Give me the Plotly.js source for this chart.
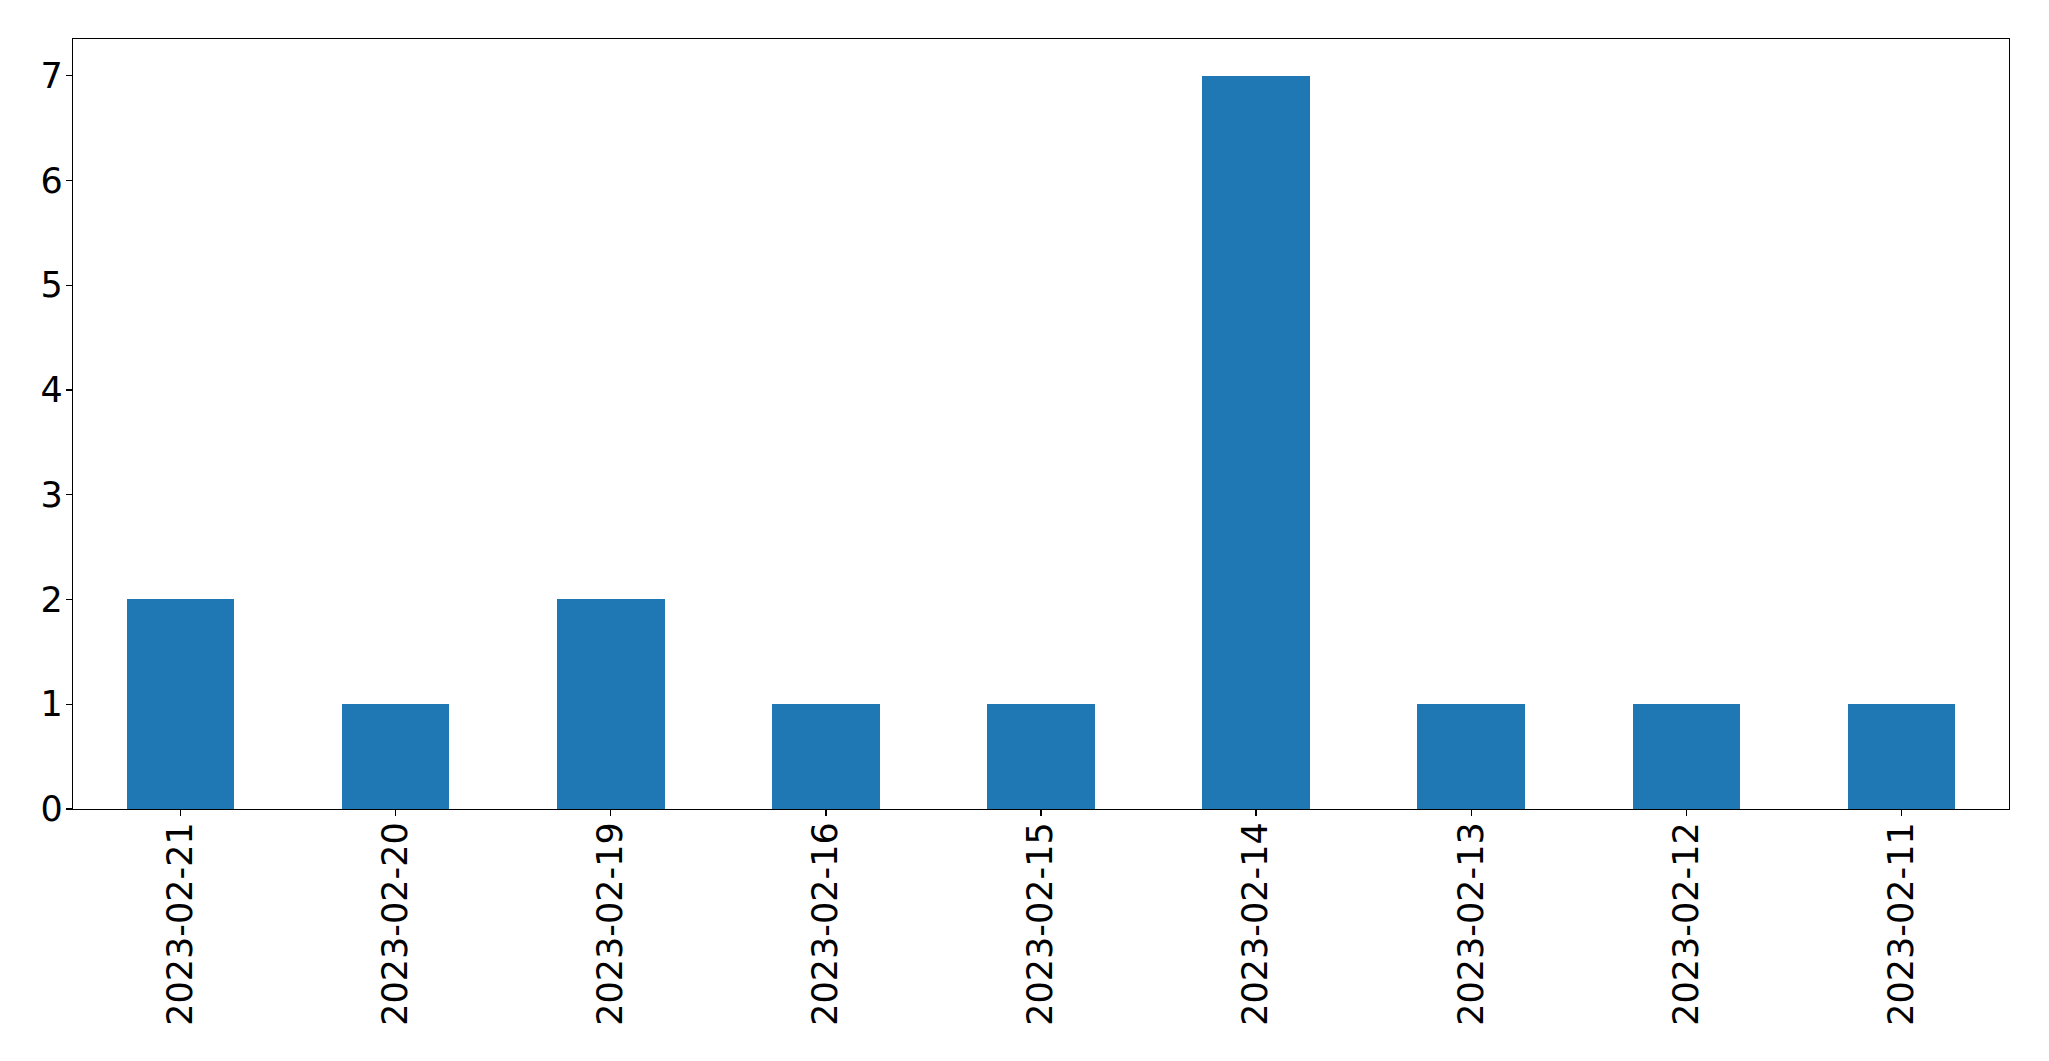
<!DOCTYPE html>
<html>
<head>
<meta charset="utf-8">
<script src="https://cdn.plot.ly/plotly-3.0.1.min.js"></script>
<style>html,body{margin:0;padding:0;background:#fff;}#chart{width:2049px;height:1061px;}</style>
</head>
<body>
<div id="chart"></div>
<script>
const dates = ["2023-02-21","2023-02-20","2023-02-19","2023-02-16","2023-02-15","2023-02-14","2023-02-13","2023-02-12","2023-02-11"];
const counts = [2,1,2,1,1,7,1,1,1];
const yTicks = [0,1,2,3,4,5,6,7];

const trace = {
  type: 'bar',
  x: dates.map((d,i)=>i),
  y: counts,
  width: 0.5,
  marker: {color: '#1f77b4', line: {width: 0}},
  hoverinfo: 'x+y'
};
const layout = {
  width: 2049, height: 1061,
  margin: {l: 72.5, r: 39.7, t: 39.3, b: 252},
  paper_bgcolor: '#fff', plot_bgcolor: '#fff',
  font: {family: 'DejaVu Sans', color: '#000', size: 35},
  showlegend: false,
  bargap: 0,
  xaxis: {
    range: [-0.5, 8.5],
    tickmode: 'array',
    tickvals: dates.map((d,i)=>i),
    ticktext: dates,
    tickangle: -90,
    ticks: 'outside', ticklen: 6, tickwidth: 1.3, tickcolor: '#000',
    ticklabelstandoff: -8,
    showline: true, linecolor: '#000', linewidth: 1.3, mirror: true,
    showgrid: false, zeroline: false,
    tickfont: {family: 'DejaVu Sans', size: 35, color: '#000'}
  },
  yaxis: {
    range: [0, 7.35],
    tickmode: 'array',
    tickvals: yTicks,
    ticktext: yTicks.map(String),
    ticks: 'outside', ticklen: 6, tickwidth: 1.3, tickcolor: '#000',
    ticklabelstandoff: -4,
    showline: true, linecolor: '#000', linewidth: 1.3, mirror: true,
    showgrid: false, zeroline: false,
    tickfont: {family: 'DejaVu Sans', size: 35, color: '#000'}
  }
};
Plotly.newPlot('chart', [trace], layout, {displayModeBar: false, staticPlot: true});
</script>
</body>
</html>
